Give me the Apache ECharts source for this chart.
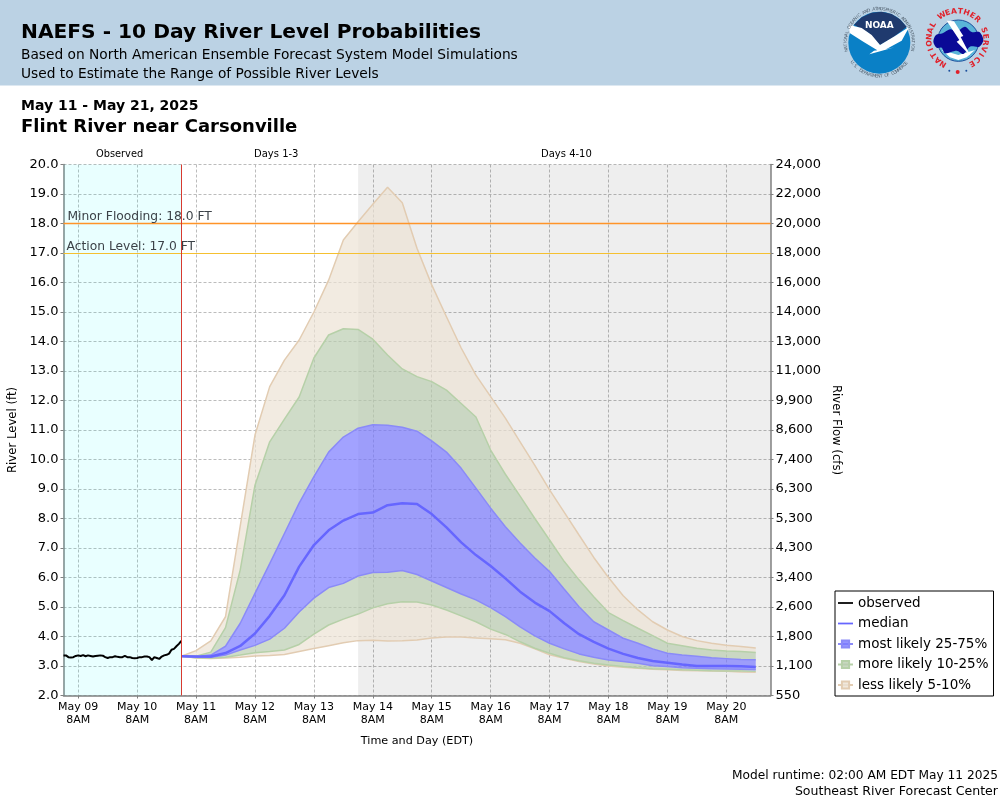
<!DOCTYPE html>
<html>
<head>
<meta charset="utf-8">
<title>NAEFS - 10 Day River Level Probabilities</title>
<script src="https://cdn.jsdelivr.net/npm/echarts@6/dist/echarts.min.js"></script>
<style>
  html, body { margin: 0; padding: 0; background: #fff; }
  #chart { width: 1000px; height: 800px; }
</style>
</head>
<body>
<div id="chart"></div>
<script>
// x is hours since May 09 2AM, one category per hour; forecast values come every 6 hours from May 11 2AM
const forecastStart = 48;
const forecastStep = 6;
const days4Start = 120;
const axisEnd = 288;

const tickHours = [6, 30, 54, 78, 102, 126, 150, 174, 198, 222, 246, 270];
const tickLabels = ['May 09', 'May 10', 'May 11', 'May 12', 'May 13', 'May 14', 'May 15', 'May 16', 'May 17', 'May 18', 'May 19', 'May 20'];
const flowLabels = ['550', '1,100', '1,800', '2,600', '3,400', '4,300', '5,300', '6,300', '7,400', '8,600', '9,900', '11,000', '13,000', '14,000', '16,000', '18,000', '20,000', '22,000', '24,000'];

// observed stage, hourly
const observed = [3.36, 3.36, 3.3, 3.29, 3.3, 3.34, 3.36, 3.34, 3.37, 3.33, 3.36, 3.34, 3.32, 3.34, 3.35, 3.36, 3.35, 3.3, 3.27, 3.3, 3.3, 3.33, 3.31, 3.3, 3.3, 3.34, 3.3, 3.3, 3.27, 3.26, 3.27, 3.3, 3.3, 3.32, 3.32, 3.3, 3.2, 3.3, 3.27, 3.24, 3.32, 3.36, 3.38, 3.42, 3.55, 3.58, 3.67, 3.75, 3.85];

// forecast percentiles
const p5 = [3.33, 3.27, 3.25, 3.27, 3.3, 3.34, 3.36, 3.39, 3.49, 3.59, 3.69, 3.79, 3.86, 3.87, 3.85, 3.86, 3.88, 3.95, 3.98, 3.98, 3.95, 3.92, 3.89, 3.77, 3.58, 3.38, 3.26, 3.15, 3.07, 3.0, 2.96, 2.92, 2.89, 2.87, 2.85, 2.84, 2.83, 2.82, 2.8, 2.79];
const p10 = [3.33, 3.28, 3.27, 3.3, 3.37, 3.45, 3.49, 3.54, 3.73, 4.08, 4.39, 4.59, 4.76, 4.97, 5.11, 5.18, 5.17, 5.07, 4.9, 4.7, 4.5, 4.25, 4.07, 3.82, 3.6, 3.43, 3.28, 3.18, 3.09, 3.03, 2.98, 2.94, 2.91, 2.89, 2.87, 2.86, 2.84, 2.83, 2.83, 2.82];
const p25 = [3.33, 3.3, 3.3, 3.37, 3.54, 3.7, 3.91, 4.28, 4.83, 5.3, 5.66, 5.8, 6.05, 6.17, 6.18, 6.24, 6.1, 5.88, 5.66, 5.44, 5.24, 4.98, 4.67, 4.33, 4.02, 3.77, 3.58, 3.41, 3.3, 3.2, 3.15, 3.09, 3.01, 2.98, 2.94, 2.92, 2.91, 2.9, 2.89, 2.87];
const median = [3.33, 3.32, 3.32, 3.44, 3.68, 4.1, 4.7, 5.4, 6.37, 7.1, 7.6, 7.93, 8.15, 8.2, 8.45, 8.52, 8.49, 8.15, 7.7, 7.19, 6.76, 6.39, 5.97, 5.52, 5.15, 4.86, 4.45, 4.08, 3.82, 3.59, 3.41, 3.27, 3.17, 3.11, 3.05, 3.0, 3.0, 3.0, 2.99, 2.97];
const p75 = [3.33, 3.33, 3.37, 3.67, 4.45, 5.46, 6.47, 7.49, 8.52, 9.42, 10.25, 10.76, 11.06, 11.18, 11.16, 11.09, 10.96, 10.63, 10.25, 9.7, 9.03, 8.35, 7.72, 7.17, 6.66, 6.2, 5.6, 5.01, 4.5, 4.22, 3.94, 3.77, 3.58, 3.43, 3.37, 3.33, 3.28, 3.25, 3.22, 3.21];
const p90 = [3.33, 3.33, 3.47, 4.3, 6.26, 9.13, 10.6, 11.37, 12.12, 13.44, 14.22, 14.43, 14.41, 14.08, 13.54, 13.07, 12.81, 12.64, 12.35, 11.9, 11.44, 10.32, 9.5, 8.76, 8.0, 7.27, 6.54, 5.92, 5.35, 4.81, 4.54, 4.28, 4.03, 3.77, 3.69, 3.6, 3.54, 3.51, 3.49, 3.46];
const p95 = [3.33, 3.52, 3.85, 4.67, 7.75, 10.83, 12.47, 13.37, 14.05, 15.0, 16.08, 17.44, 18.06, 18.65, 19.23, 18.7, 17.16, 15.92, 14.84, 13.78, 12.86, 12.13, 11.4, 10.6, 9.8, 8.97, 8.21, 7.44, 6.68, 6.0, 5.38, 4.9, 4.5, 4.22, 4.0, 3.86, 3.77, 3.7, 3.66, 3.61];

const minorFlood = 18;
const actionLevel = 17;

const FONT = '"DejaVu Sans", sans-serif';
const GRID_COLOR = '#bcbcbc';
const TAN = '#ece2d4', TAN_LINE = '#e2ccb2', TAN_KEY = 'rgba(236,226,212,0.8)';
const GREEN = '#bacdb0', GREEN_LINE = '#b6d0a8', GREEN_KEY = 'rgba(186,205,176,0.8)';
const BLUE = '#7a7aff', BLUE_LINE = '#8a8af8', BLUE_KEY = 'rgba(122,122,255,0.8)';

// one category per hour across the axis
const hourCategories = [];
for (let h = 0; h <= axisEnd; h++) {
  hourCategories.push(String(h));
}

function isTickHour(index) {
  return tickHours.indexOf(index) >= 0;
}

// forecast values as [hour, value]
function forecastPoints(values) {
  return values.map(function (v, i) { return [forecastStart + i * forecastStep, v]; });
}
// thickness of a band, for stacking
function bandPoints(hi, lo) {
  return hi.map(function (v, i) { return [forecastStart + i * forecastStep, +(v - lo[i]).toFixed(2)]; });
}

function bandSeries(name, data, fill, line, key) {
  return {
    name: name,
    type: 'line',
    stack: 'bands',
    data: data,
    symbol: 'rect',
    showSymbol: false,
    silent: true,
    lineStyle: { color: line, width: 1.5 },
    itemStyle: { color: key, borderColor: line, borderWidth: 1 },
    areaStyle: { color: fill, opacity: 0.7 }
  };
}

// letters around a logo ring, angle in degrees clockwise from the top
function ringText(text, cx, cy, r, startDeg, stepDeg, font, color, bottom) {
  return text.split('').map(function (ch, i) {
    const deg = startDeg + i * stepDeg;
    const a = deg * Math.PI / 180;
    return {
      type: 'text',
      x: cx + r * Math.sin(a),
      y: cy - r * Math.cos(a),
      rotation: bottom ? -(a - Math.PI) : -a,
      style: { text: ch, font: font, fill: color, align: 'center', verticalAlign: 'middle' }
    };
  });
}

// logos are drawn in a 3x space and scaled down
const logoChildren = [
  { type: 'circle', shape: { cx: 238, cy: 128, r: 93 }, style: { fill: '#0a80c6' } },
  { type: 'polygon', shape: { points: [[162, 74], [185, 52], [215, 38], [245, 35], [275, 42], [300, 58], [320, 80], [280, 112], [240, 135], [205, 98]] }, style: { fill: '#1f3a6e' } },
  { type: 'polygon', shape: { points: [[146, 74], [185, 84], [215, 105], [240, 135], [285, 108], [328, 80], [305, 122], [258, 148], [284, 142], [208, 163], [222, 152], [232, 151], [190, 125], [150, 100]] }, style: { fill: '#fff' } },
  { type: 'text', x: 238, y: 76, style: { text: 'NOAA', font: 'bold 27px ' + FONT, fill: '#fff', align: 'center', verticalAlign: 'middle' } },
  { type: 'circle', shape: { cx: 475, cy: 122, r: 62 }, style: { fill: '#5ab4d8', stroke: '#1c4f9c', lineWidth: 3 } },
  { type: 'polygon', shape: { points: [[425, 150], [450, 172], [475, 180], [500, 172], [525, 150], [475, 165]] }, style: { fill: '#fff' } },
  { type: 'polygon', shape: { smooth: 0.3, points: [[400, 125], [408, 105], [428, 100], [450, 88], [470, 94], [495, 80], [515, 96], [538, 96], [550, 120], [538, 140], [510, 140], [490, 162], [470, 152], [435, 160], [425, 143], [410, 143]] }, style: { fill: '#0a0a96' } },
  { type: 'polygon', shape: { points: [[440, 62], [462, 64], [490, 108], [482, 111], [512, 168], [470, 125], [478, 120]] }, style: { fill: '#fff' } },
  { type: 'circle', shape: { cx: 448, cy: 212, r: 3 }, style: { fill: '#1c4f9c' } },
  { type: 'circle', shape: { cx: 473, cy: 216, r: 6 }, style: { fill: '#e0212b' } },
  { type: 'circle', shape: { cx: 499, cy: 212, r: 3 }, style: { fill: '#1c4f9c' } }
]
  .concat(ringText('NATIONAL OCEANIC AND ATMOSPHERIC ADMINISTRATION', 238, 128, 101, -103, 4.45, '13px ' + FONT, '#4e5d6b', false))
  .concat(ringText('U.S. DEPARTMENT OF COMMERCE', 238, 128, 101, 234, -4.1, '13px ' + FONT, '#4e5d6b', true))
  .concat(ringText('NATIONAL WEATHER SERVICE', 472, 118, 84, -150, 13, 'bold 23px ' + FONT, '#e0212b', false));

function headerText(text, left, top, font, extra) {
  return Object.assign({
    text: text,
    left: left,
    top: top,
    padding: 0,
    textStyle: Object.assign({ fontFamily: FONT, color: '#000', fontWeight: 'normal' }, font)
  }, extra || {});
}

const chart = echarts.init(document.getElementById('chart'), null, { renderer: 'canvas' });

chart.setOption({
  animation: false,
  backgroundColor: '#fff',
  title: [
    headerText('NAEFS - 10 Day River Level Probabilities', 21, 23, { fontSize: 20.2, fontWeight: 'bold' }),
    headerText('Based on North American Ensemble Forecast System Model Simulations', 21, 48, { fontSize: 13.75 }),
    headerText('Used to Estimate the Range of Possible River Levels', 21, 67, { fontSize: 13.75 }),
    headerText('May 11 - May 21, 2025', 21, 99, { fontSize: 14, fontWeight: 'bold' }),
    headerText('Flint River near Carsonville', 21, 118, { fontSize: 18, fontWeight: 'bold' }),
    headerText('Observed', 96, 149, { fontSize: 9.8 }),
    headerText('Days 1-3', 254, 149, { fontSize: 10 }),
    headerText('Days 4-10', 541, 149, { fontSize: 10 }),
    headerText('Model runtime: 02:00 AM EDT May 11 2025', 'auto', 770, { fontSize: 12.2 }, { right: 2 }),
    headerText('Southeast River Forecast Center', 'auto', 785, { fontSize: 12.55 }, { right: 2 })
  ],
  graphic: [
    { type: 'rect', z: -10, shape: { x: 0, y: 0, width: 1000, height: 85.5 }, style: { fill: '#bbd2e4' } },
    { type: 'group', x: 800, y: 0, scaleX: 1 / 3, scaleY: 1 / 3, children: logoChildren }
  ],
  grid: { left: 63.5, right: 229.5, top: 164.5, bottom: 104.5, outerBoundsMode: 'none' },
  legend: {
    orient: 'vertical',
    left: 835,
    top: 591,
    padding: [5, 5, 4, 2],
    itemWidth: 15,
    itemHeight: 9,
    itemGap: 6.5,
    backgroundColor: '#fff',
    borderColor: '#000',
    borderWidth: 1,
    borderRadius: 0,
    selectedMode: false,
    textStyle: { fontFamily: FONT, fontSize: 13.5, color: '#000' },
    data: [
      { name: 'observed', icon: 'path://M0 0H17V2H0Z' },
      { name: 'median', icon: 'path://M0 0H17V2H0Z' },
      { name: 'most likely 25-75%' },
      { name: 'more likely 10-25%' },
      { name: 'less likely 5-10%' }
    ]
  },
  xAxis: {
    type: 'category',
    data: hourCategories,
    boundaryGap: false,
    name: 'Time and Day (EDT)',
    nameLocation: 'middle',
    nameGap: 40,
    nameTextStyle: { fontFamily: FONT, fontSize: 11.2, color: '#000' },
    axisLine: { show: true, lineStyle: { color: '#808080', width: 1.5 } },
    axisTick: { show: true, length: 3, interval: isTickHour, lineStyle: { color: '#808080' } },
    axisLabel: {
      interval: isTickHour,
      fontFamily: FONT,
      fontSize: 11,
      lineHeight: 13,
      color: '#000',
      margin: 5,
      formatter: function (v) { return tickLabels[tickHours.indexOf(Number(v))] + '\n8AM'; }
    },
    splitLine: { show: true, interval: isTickHour, lineStyle: { color: GRID_COLOR, type: [3, 2], width: 1 } }
  },
  yAxis: [
    {
      type: 'value',
      min: 2,
      max: 20,
      interval: 1,
      name: 'River Level (ft)',
      nameLocation: 'middle',
      nameGap: 45,
      nameMoveOverlap: false,
      nameTextStyle: { fontFamily: FONT, fontSize: 11.7, color: '#000' },
      axisLine: { show: true, lineStyle: { color: '#808080', width: 1.5 } },
      axisTick: { show: true, length: 3, lineStyle: { color: '#808080' } },
      axisLabel: {
        fontFamily: FONT,
        fontSize: 13,
        color: '#000',
        margin: 5,
        formatter: function (v) { return v.toFixed(1); }
      },
      splitLine: { show: true, lineStyle: { color: GRID_COLOR, type: [3, 2], width: 1 } }
    },
    {
      type: 'value',
      position: 'right',
      min: 2,
      max: 20,
      interval: 1,
      name: 'River Flow (cfs)',
      nameLocation: 'middle',
      nameGap: 60,
      nameMoveOverlap: false,
      nameRotate: -90,
      nameTextStyle: { fontFamily: FONT, fontSize: 11.7, color: '#000' },
      axisLine: { show: true, lineStyle: { color: '#808080', width: 1.5 } },
      axisTick: { show: true, length: 3, lineStyle: { color: '#808080' } },
      axisLabel: {
        fontFamily: FONT,
        fontSize: 13,
        color: '#000',
        margin: 5,
        formatter: function (v) { return flowLabels[Math.round(v) - 2]; }
      },
      splitLine: { show: false }
    }
  ],
  series: [
    {
      name: 'base',
      type: 'line',
      stack: 'bands',
      data: forecastPoints(p5),
      showSymbol: false,
      silent: true,
      lineStyle: { color: TAN_LINE, width: 1.5 },
      markArea: {
        silent: true,
        data: [
          [{ xAxis: 0, itemStyle: { color: 'rgba(0,255,255,0.085)' } }, { xAxis: forecastStart }],
          [{ xAxis: days4Start, itemStyle: { color: 'rgba(0,0,0,0.065)' } }, { xAxis: axisEnd }]
        ]
      }
    },
    bandSeries('less likely lower', bandPoints(p10, p5), TAN, GREEN_LINE, TAN_KEY),
    bandSeries('more likely lower', bandPoints(p25, p10), GREEN, BLUE_LINE, GREEN_KEY),
    bandSeries('most likely 25-75%', bandPoints(p75, p25), BLUE, BLUE_LINE, BLUE_KEY),
    bandSeries('more likely 10-25%', bandPoints(p90, p75), GREEN, GREEN_LINE, GREEN_KEY),
    bandSeries('less likely 5-10%', bandPoints(p95, p90), TAN, TAN_LINE, TAN_KEY),
    {
      name: 'median',
      type: 'line',
      data: forecastPoints(median),
      showSymbol: false,
      silent: true,
      z: 4,
      lineStyle: { color: '#6666ff', width: 2.5 },
      itemStyle: { color: '#6666ff' }
    },
    {
      name: 'observed',
      type: 'line',
      data: observed.map(function (v, i) { return [i, v]; }),
      showSymbol: false,
      silent: true,
      z: 4,
      lineStyle: { color: '#000', width: 2 },
      itemStyle: { color: '#000' },
      markLine: {
        silent: true,
        symbol: 'none',
        animation: false,
        data: [
          {
            yAxis: minorFlood,
            lineStyle: { color: '#ff9428', width: 1.4, type: 'solid' },
            label: { show: true, position: 'insideStartTop', formatter: 'Minor Flooding: ' + minorFlood.toFixed(1) + ' FT', fontFamily: FONT, fontSize: 12.3, color: '#3c4248', distance: 1, padding: [0, 0, 0, 3] }
          },
          {
            yAxis: actionLevel,
            lineStyle: { color: '#f5c030', width: 1.2, type: 'solid' },
            label: { show: true, position: 'insideStartTop', formatter: 'Action Level: ' + actionLevel.toFixed(1) + ' FT', fontFamily: FONT, fontSize: 12.3, color: '#3c4248', distance: 0, padding: [0, 0, 0, 3] }
          },
          {
            xAxis: forecastStart,
            lineStyle: { color: '#d83a30', width: 1, type: 'solid' },
            label: { show: false }
          }
        ]
      }
    }
  ]
});
</script>
</body>
</html>
